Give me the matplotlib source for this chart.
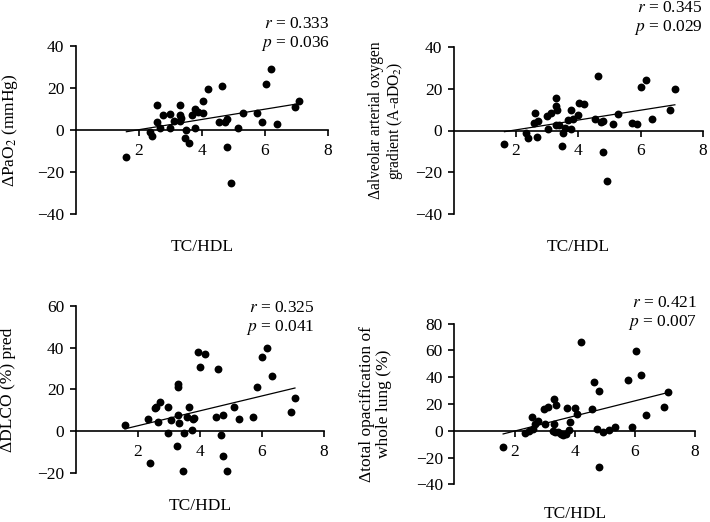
import numpy as np
import matplotlib
matplotlib.use("Agg")
import matplotlib.pyplot as plt

plt.rcParams["font.family"] = ["Liberation Serif", "DejaVu Serif"]
plt.rcParams["mathtext.fontset"] = "stix"
FS = 12.5

# panel A: delta PaO2
x_pao2 = [1.60, 2.34, 2.41, 2.58, 2.56, 2.68, 2.75, 2.99, 3.00, 3.10, 3.30, 3.30, 3.33,
          3.29, 3.46, 3.50, 3.58, 3.69, 3.78, 3.78, 3.86, 4.03, 4.04, 4.19, 4.55, 4.63,
          4.72, 4.79, 4.79, 4.91, 5.13, 5.31, 5.75, 5.89, 6.03, 6.18, 6.37, 6.95, 7.08]
y_pao2 = [-13.0, -1.0, -3.0, 12.0, 4.0, 1.0, 7.0, 7.4, 1.0, 4.4, 11.7, 7.0, 5.5,
          4.3, -4.0, 0.0, -6.0, 7.0, 10.0, 1.0, 8.5, 8.0, 14.0, 19.3, 3.8, 21.0,
          4.0, 5.0, -8.0, -25.0, 0.8, 8.0, 8.0, 4.0, 21.8, 28.8, 3.0, 11.0, 14.0]

# panel B: delta A-aDO2
x_aado2 = [1.63, 2.33, 2.40, 2.60, 2.57, 2.72, 2.67, 2.99, 3.12, 3.03, 3.30, 3.30, 3.32,
           3.30, 3.38, 3.47, 3.51, 3.58, 3.68, 3.77, 3.77, 3.82, 3.99, 4.03, 4.18, 4.53,
           4.63, 4.74, 4.78, 4.79, 4.92, 5.12, 5.29, 5.73, 5.88, 6.02, 6.18, 6.37, 6.94, 7.10]
y_aado2 = [-6.7, -1.3, -3.8, 8.3, 3.7, 4.5, -3.2, 7.0, 8.3, 0.8, 15.6, 11.5, 9.6,
           2.4, 2.7, -7.3, -1.1, 1.1, 5.1, 9.6, 0.8, 5.6, 7.2, 13.1, 12.5, 5.6,
           25.9, 4.0, 4.5, -10.5, -24.4, 2.9, 7.7, 3.8, 3.2, 20.9, 24.3, 5.3, 9.6, 20.0]

# panel C: delta DLCO (%) pred
x_dlco = [1.58, 2.33, 2.39, 2.54, 2.59, 2.65, 2.71, 2.97, 2.98, 3.07, 3.26, 3.28, 3.28,
          3.29, 3.34, 3.44, 3.49, 3.60, 3.65, 3.73, 3.78, 3.80, 3.95, 4.02, 4.15, 4.60,
          4.51, 4.67, 4.76, 4.75, 4.89, 5.10, 5.27, 5.73, 5.85, 6.01, 6.16, 6.34, 6.93, 7.07]
y_dlco = [2.9, 5.6, -15.2, 10.9, 11.5, 4.6, 13.9, 11.8, -1.1, 5.4, -7.2, 22.5, 21.1,
          7.7, 3.7, -18.9, -1.1, 6.7, 11.5, 0.6, 5.6, 6.4, 38.0, 30.7, 37.0, 29.7,
          7.0, -1.9, 7.8, -12.0, -18.9, 11.7, 5.9, 6.7, 21.1, 35.3, 39.9, 26.4, 9.1, 15.8]

# panel D: delta total opacification
x_opac = [1.62, 2.36, 2.49, 2.58, 2.60, 2.69, 2.77, 3.01, 2.99, 3.12, 3.32, 3.38, 3.31,
          3.29, 3.33, 3.46, 3.55, 3.61, 3.70, 3.75, 3.81, 3.84, 4.02, 4.07, 4.20, 4.57,
          4.63, 4.73, 4.81, 4.81, 4.94, 5.14, 5.33, 5.78, 5.89, 6.05, 6.21, 6.38, 6.96, 7.10]
y_opac = [-12.4, -1.5, 0.0, 10.4, 1.2, 5.0, 7.4, 5.0, 16.6, 17.8, 23.5, 19.1, 5.4,
          0.0, -1.2, -1.2, -2.5, -3.0, -2.0, 17.1, 0.5, 6.4, 17.1, 12.4, 66.6, 16.1,
          36.4, 1.0, 29.5, -26.7, -1.0, 0.5, 2.5, 38.1, 2.5, 59.9, 41.9, 12.1, 17.8, 29.2]

stats = ["$r$ = 0.333\n$p$ = 0.036", "$r$ = 0.345\n$p$ = 0.029",
         "$r$ = 0.325\n$p$ = 0.041", "$r$ = 0.421\n$p$ = 0.007"]
ylabels = ["ΔPaO$_2$ (mmHg)",
           "Δalveolar arterial oxygen\ngradient (A-aDO$_2$)",
           "ΔDLCO (%) pred",
           "Δtotal opacification of\nwhole lung (%)"]
yranges = [(-40, 40), (-40, 40), (-20, 60), (-40, 80)]
yticks = [[-40, -20, 0, 20, 40], [-40, -20, 0, 20, 40],
          [-20, 0, 20, 40, 60], [-40, -20, 0, 20, 40, 60, 80]]
xticks = [2, 4, 6, 8]

# axes rect, ylabel centre / size, stats anchor, TC/HDL y (axes fractions)
panels = [
    (x_pao2, y_pao2, [0.107, 0.590, 0.355, 0.322], (-0.262, 0.5, FS), (1.008, 1.07), -0.196),
    (x_aado2, y_aado2, [0.639, 0.590, 0.351, 0.320], (-0.269, 0.56, 11.2), (1.001, 1.172), -0.196),
    (x_dlco, y_dlco, [0.107, 0.094, 0.349, 0.320], (-0.273, 0.5, FS), (0.965, 0.926), -0.2),
    (x_opac, y_opac, [0.640, 0.072, 0.339, 0.308], (-0.329, 0.5, FS), (1.01, 1.063), -0.185),
]

fig = plt.figure(figsize=(7.10, 5.22), dpi=100)

for i, (xs, ys, rect, lab, stat_pos, xl_y) in enumerate(panels):
    ax = fig.add_axes(rect)
    xs = np.array(xs)
    ys = np.array(ys)
    ax.scatter(xs, ys, s=32, color="black", zorder=3, clip_on=False, linewidths=0)

    # least squares line over the observed range
    slope, intercept = np.polyfit(xs, ys, 1)
    xl = np.array([xs.min(), xs.max()])
    ax.plot(xl, slope * xl + intercept, color="black", linewidth=0.9, zorder=2)

    ax.set_xlim(0, 8)
    ax.set_ylim(*yranges[i])
    ax.set_xticks(xticks)
    ax.set_yticks(yticks[i])
    ax.spines["top"].set_visible(False)
    ax.spines["right"].set_visible(False)
    ax.spines["bottom"].set_position(("data", 0))
    for sp in ("left", "bottom"):
        ax.spines[sp].set_linewidth(1.2)
    ax.tick_params(axis="both", direction="out", length=4.3, width=1.2, labelsize=FS)
    ax.tick_params(axis="x", pad=5)
    ax.tick_params(axis="y", pad=4)

    ax.text(lab[0], lab[1], ylabels[i], transform=ax.transAxes, rotation=90,
            ha="center", va="center", multialignment="center", fontsize=lab[2],
            linespacing=1.1)
    ax.text(0.5, xl_y, "TC/HDL", transform=ax.transAxes,
            ha="center", va="center", fontsize=FS)
    ax.text(stat_pos[0], stat_pos[1], stats[i], transform=ax.transAxes,
            ha="right", va="center", fontsize=FS, linespacing=1.15)

fig.savefig("out.png", dpi=100)
